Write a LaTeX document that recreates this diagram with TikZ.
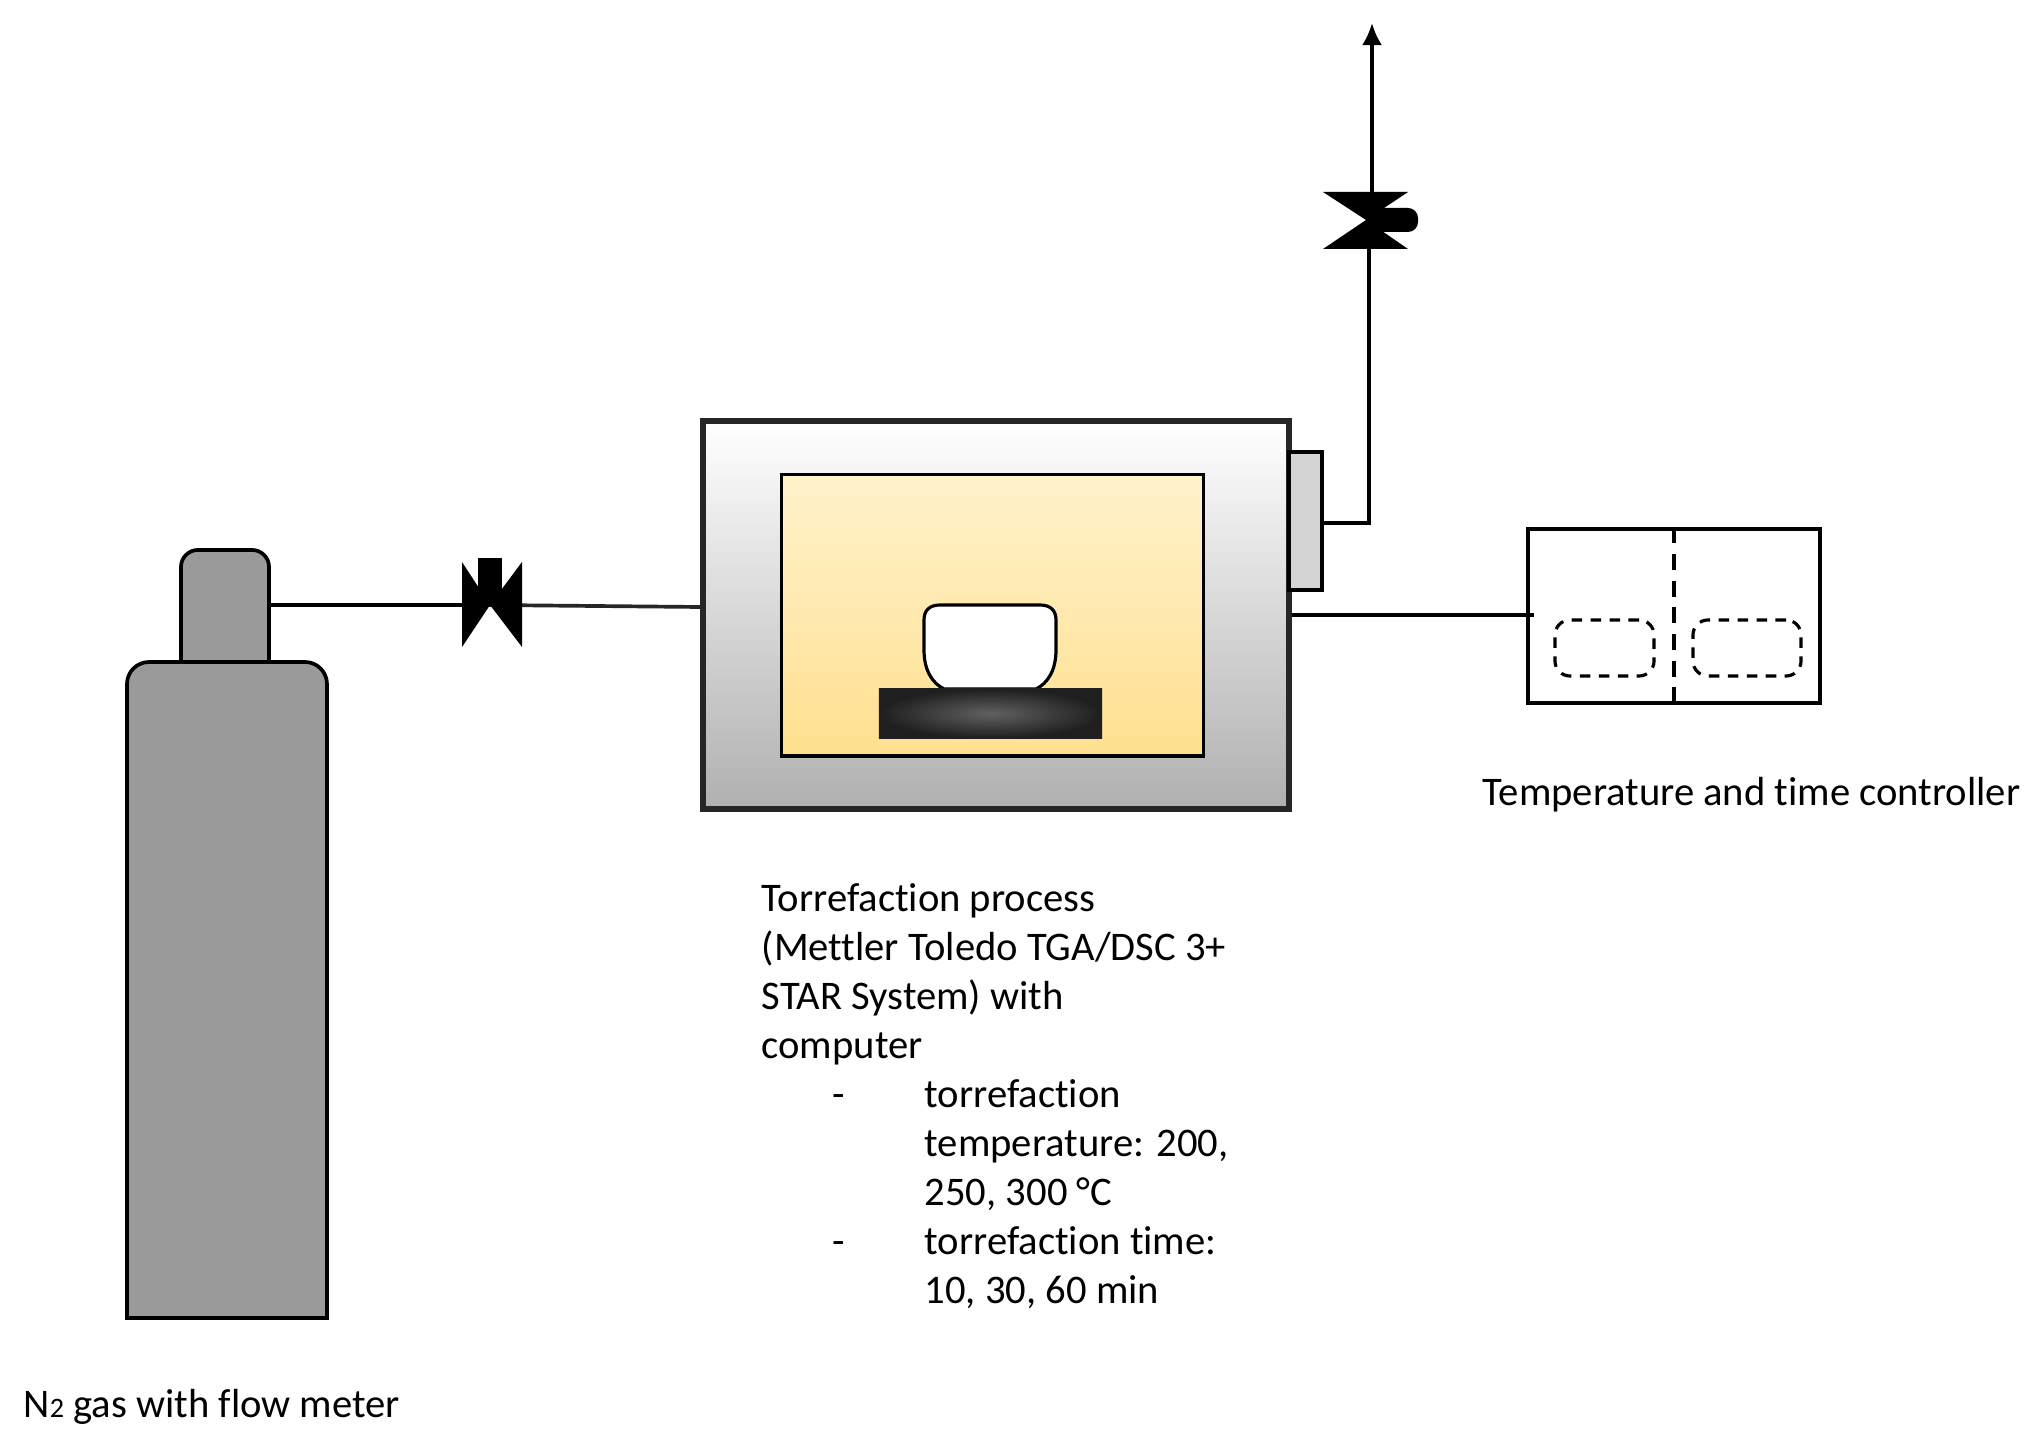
\documentclass[tikz,border=0pt]{standalone}
\usepackage{fontspec}
\usetikzlibrary{arrows.meta}
\setmainfont[Ligatures=NoCommon]{Carlito}
\begin{document}
\begin{tikzpicture}[x=0.01cm,y=-0.01cm,
	every node/.style={inner sep=0pt},
	label text/.style={anchor=base west,align=left,font=\fontsize{11.55}{13.9}\selectfont},
	pipe/.style={line width=1.05pt},
	bottle/.style={draw,line width=1.05pt,fill=bottlegray},
	dash box/.style={draw,dash pattern=on 3pt off 2.4pt,line width=0.9pt,rounded corners=0.15cm,minimum height=0.56cm}]
\definecolor{bottlegray}{HTML}{9A9A9A}
\definecolor{ovenbot}{HTML}{B0B0B0}
\definecolor{hottop}{HTML}{FFF2CC}
\definecolor{hotbot}{HTML}{FFE08F}
\definecolor{portgray}{HTML}{D4D4D4}
\useasboundingbox (0,0) rectangle (2030,1443);
	
	%Gas bottle
	%------------------------------------------------------
	\node[bottle,rounded corners=0.17cm,minimum width=0.88cm,minimum height=1.3cm] (Neck) at (225,615) {};
	\draw[bottle] (127,1318) [rounded corners=0.22cm] -- (127,662) -- (327,662) -- (327,800) [sharp corners] -- (327,1318) -- cycle;
	
	%Furnace
	%------------------------------------------------------
	\node[draw=black!85,line width=1.6pt,minimum width=5.86cm,minimum height=3.88cm,top color=white,bottom color=ovenbot] (Oven) at (996,615) {};
	\node[draw,line width=0.9pt,minimum width=4.21cm,minimum height=2.81cm,top color=hottop,bottom color=hotbot] (Chamber) at (992.5,615.5) {};
	\node[draw,line width=1.05pt,minimum width=0.33cm,minimum height=1.38cm,fill=portgray] (Port) at (1305.5,521) {};
	
	%Crucible and plate
	\draw[line width=0.9pt,fill=white] (940,605) -- (1040,605) .. controls (1050,605) and (1056,610) .. (1056,620) -- (1056,650) .. controls (1056,670) and (1048,683) .. (1036,689) -- (944,689) .. controls (932,683) and (924,670) .. (924,650) -- (924,620) .. controls (924,610) and (930,605) .. (940,605) -- cycle;
	\node[minimum width=2.23cm,minimum height=0.49cm,inner color=black!62,outer color=black!88] (Plate) at (990.5,713.5) {};
	
	%Controller
	%------------------------------------------------------
	\node[draw,line width=1.05pt,minimum width=2.92cm,minimum height=1.74cm] (Ctrl) at (1674,616) {};
	\draw[dash pattern=on 4.6pt off 3pt,line width=0.9pt] (Ctrl.north) -- (Ctrl.south);
	\node[dash box,minimum width=0.99cm] (Display1) at (1604.5,648) {};
	\node[dash box,minimum width=1.08cm] (Display2) at (1747,648) {};
	
	%Lines
	%------------------------------------------------------
	\coordinate (ValveIn) at (490,605);
	\coordinate (ValveOut) at (1366,220);
	\coordinate (OvenIn) at (Oven.west |- 0,607);
	\coordinate (OutTop) at (1372,23);
	\coordinate (PortOut) at (Port.east |- 0,523);
	\coordinate (OvenOut) at (Oven.east |- 0,615);
	\draw[pipe] (Neck.east |- ValveIn) -- (ValveIn);
	\draw[pipe,black!85] (ValveIn) -- (OvenIn);
	\draw[pipe] (PortOut) -- (1369,523) -- (1369,220);
	\draw[pipe,-{Latex[length=0.22cm,width=0.2cm]}] (1372,220) -- (OutTop);
	\draw[pipe] (OvenOut) -- (1534,615);
	
	%Valves
	%------------------------------------------------------
	\fill (462,562) -- (ValveIn) -- (522,562) -- (522,647) -- (ValveIn) -- (462,647) -- cycle;
	\fill (478,558) rectangle (502,606);
	\fill (1323,192) -- (1408,192) -- (ValveOut) -- (1408,249) -- (1323,249) -- (ValveOut) -- cycle;
	\fill[rounded corners=0.1cm] (1366,208) rectangle (1418,232);
	
	%Labels
	%------------------------------------------------------
	\node[label text] (GasText) at (23,1417) {N{\fontsize{8}{10}\selectfont 2} gas with flow meter};
	\node[label text] (CtrlText) at (1482,806) {Temperature and time controller};
	\node[label text] (ProcText) at (761,1058.5) {Torrefaction process\\(Mettler Toledo TGA/DSC 3+\\STAR System) with\\computer};
	\node[label text] (Dash1) at (832,1107.5) {-};
	\node[label text] (Item1) at (924,1205.5) {torrefaction\\temperature: 200,\\250, 300 °C};
	\node[label text] (Dash2) at (832,1254.5) {-};
	\node[label text] (Item2) at (924,1303.5) {torrefaction time:\\10, 30, 60 min};
\end{tikzpicture}
\end{document}
